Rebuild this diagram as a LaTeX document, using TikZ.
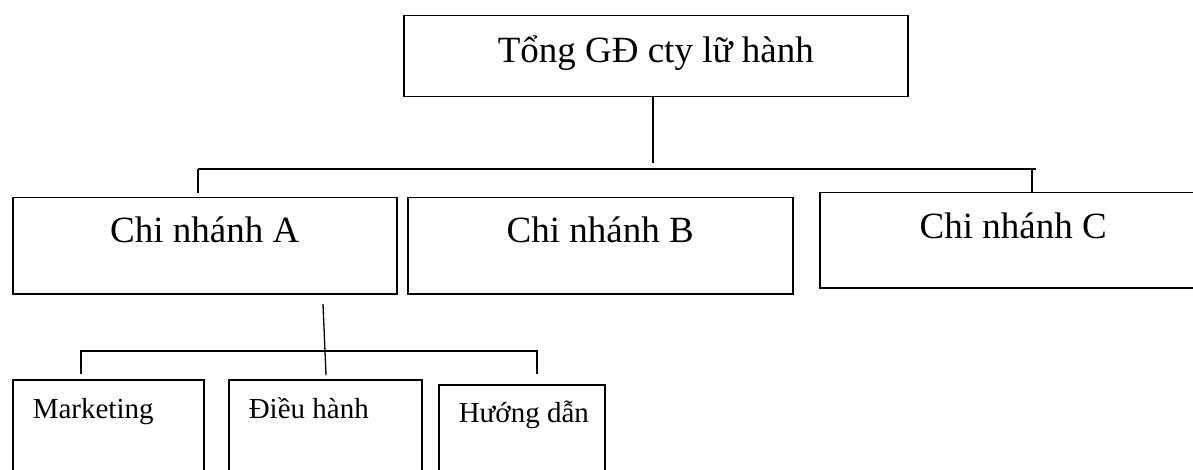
\documentclass[tikz,border=0pt]{standalone}
\usepackage{fontspec}
\setmainfont{Liberation Serif}
\tikzset{
  unitbox/.style={draw, line width=1.5pt, rectangle, inner xsep=0pt, inner ysep=0pt,
    anchor=north west, align=center,
    execute at begin node={\spaceskip=0.25em\relax\xspaceskip=0.25em\relax}},
  bigtext/.style={font=\fontsize{37}{40}\selectfont},
  smalltext/.style={font=\fontsize{29}{32}\selectfont, align=left},
  link/.style={line width=1.3pt}
}
\newcommand{\deptname}[1]{\hspace*{20pt}#1}
\begin{document}
\begin{tikzpicture}[x=1pt, y=-1pt]
  \useasboundingbox (0,0) rectangle (1193,470);
  \clip (0,0) rectangle (1193,470);

  % head office
  \node[unitbox, bigtext, text width=504pt, text height=47pt, text depth=34pt] (top) at (403,15) {Tổng GĐ cty lữ hành};

  % branches
  \node[unitbox, bigtext, text width=384pt, text height=45pt, text depth=51pt] (brA) at (12,197) {Chi nhánh A};
  \node[unitbox, bigtext, text width=385pt, text height=45pt, text depth=51pt] (brB) at (407,197) {Chi nhánh B};
  \node[unitbox, bigtext, text width=387pt, text height=46pt, text depth=49pt] (brC) at (819,192) {Chi nhánh C};

  % departments of branch A
  \node[unitbox, smalltext, text width=191pt, text height=39pt, text depth=110pt] (mkt) at (12,379) {\deptname{Marketing}};
  \node[unitbox, smalltext, text width=193pt, text height=39pt, text depth=110pt] (dh) at (228,379) {\deptname{Điều hành}};
  \node[unitbox, smalltext, text width=166pt, text height=38pt, text depth=110pt] (hd) at (438,384) {\deptname{Hướng dẫn}};

  % head office to branches
  \coordinate (topEnd) at (653,163);
  \coordinate (busL) at (198,169);
  \coordinate (busR) at (1036,169);
  \coordinate (stubA) at (198,193);
  \coordinate (stubC) at (1032,169);
  \draw[link] (top.south -| topEnd) -- (topEnd);
  \draw[link] (busL) -- (busR);
  \draw[link] (busL) -- (stubA);
  \draw[link] (stubC) -- (stubC |- brC.north);

  % branch A to its departments
  \coordinate (aTop) at (323,304);
  \coordinate (aEnd) at (326,375);
  \coordinate (bus2L) at (81,351);
  \coordinate (bus2R) at (537,351);
  \coordinate (stubM) at (81,374);
  \coordinate (stubH) at (537,374);
  \draw[link] (aTop) -- (aEnd);
  \draw[link] (stubM) -- (bus2L) -- (bus2R) -- (stubH);
\end{tikzpicture}
\end{document}
